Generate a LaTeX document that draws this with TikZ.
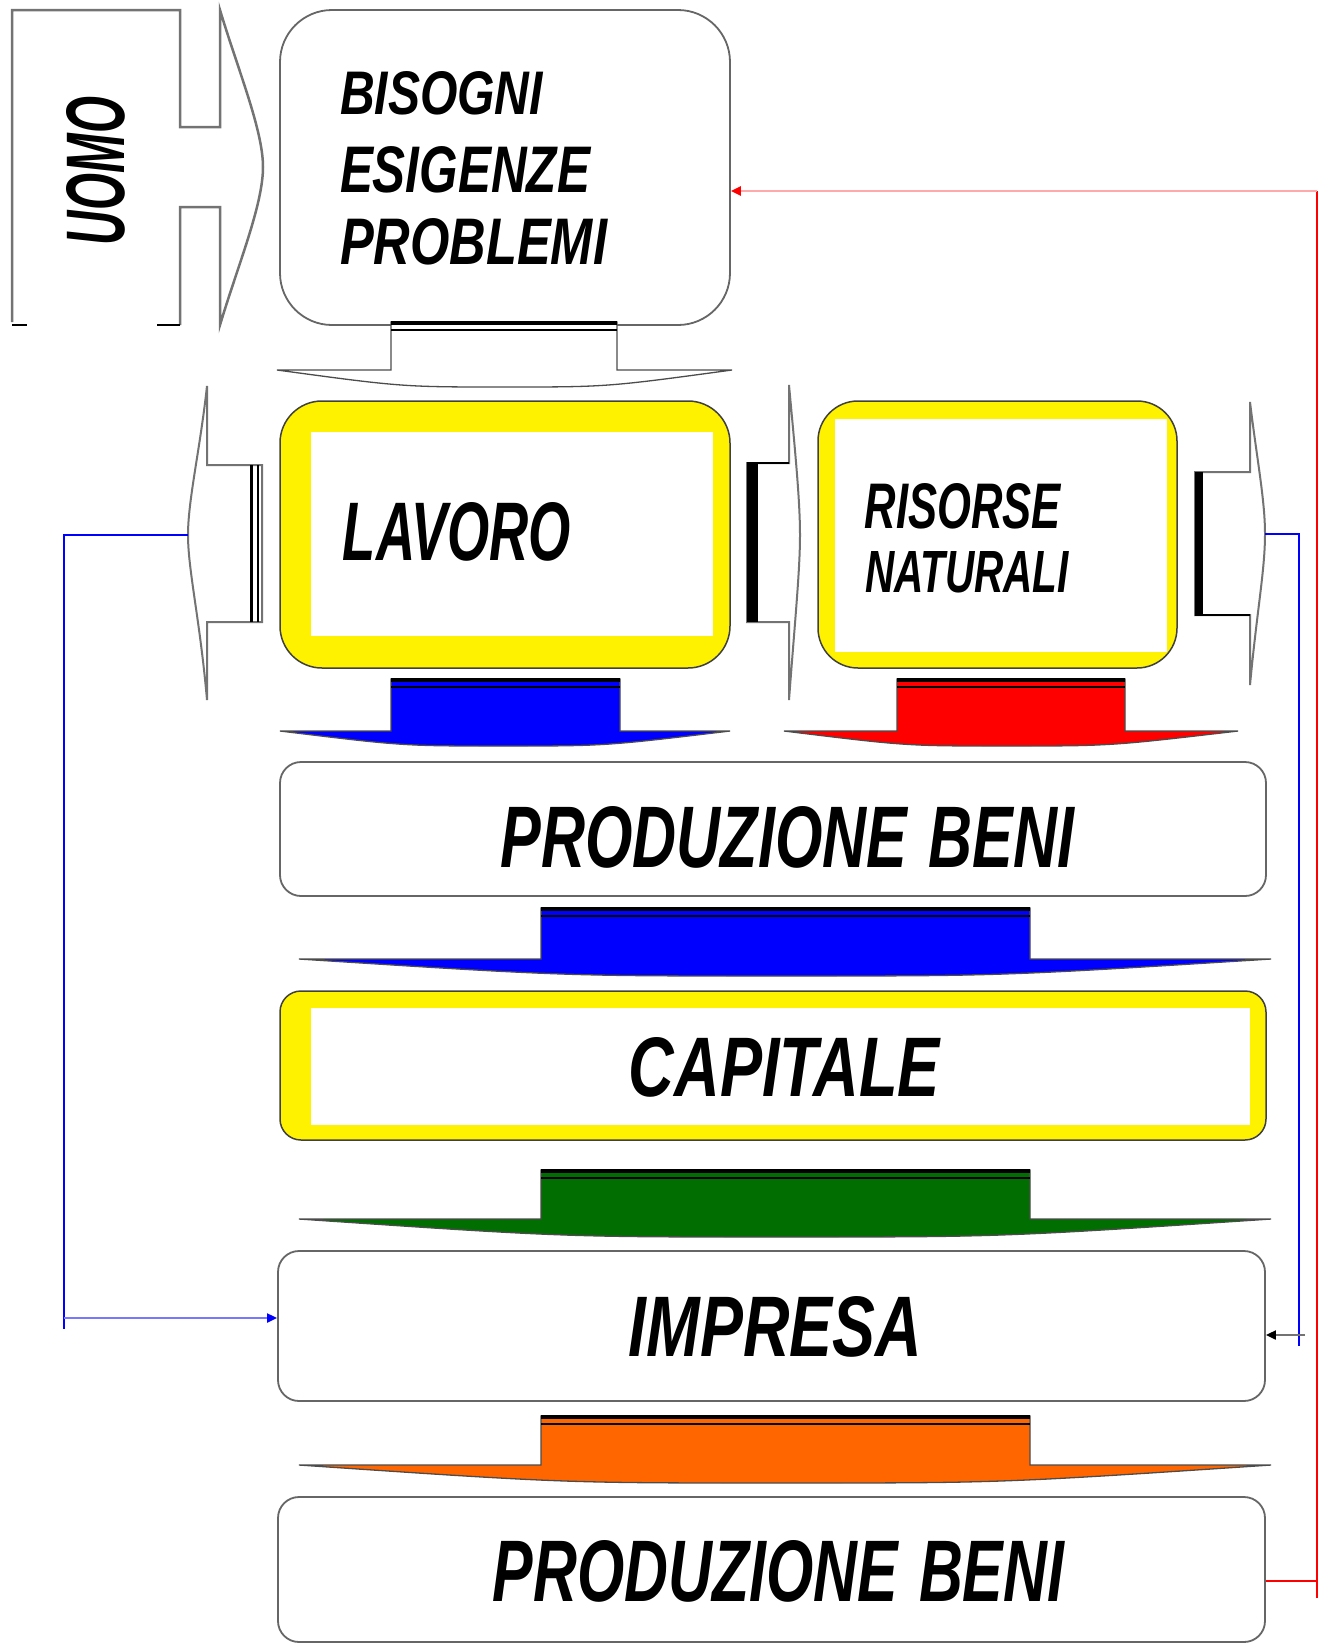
\documentclass[tikz,border=0pt]{standalone}
\usepackage{fontspec}
\usepackage{graphicx}
\newfontfamily\digifont{Liberation Sans}
\usetikzlibrary{arrows.meta}
\definecolor{grn}{RGB}{0,110,0}
\definecolor{orng}{RGB}{255,102,0}
\definecolor{lred}{RGB}{255,170,170}
\definecolor{lblue}{RGB}{120,120,255}
\newcommand\fittext[3]{\resizebox{#1pt}{#2pt}{\digifont\bfseries\itshape #3}}
% colour, shaft left, shaft right, top, wing left, wing right, wing y, tip x, tip y
\newcommand\dnarrow[9]{%
  \filldraw[fill=#1, draw=black!70, line width=1.3pt]
    (#2,#4) -- (#3,#4) -- (#3,#7) -- (#6,#7)
    .. controls ({#8+0.45*(#6-#8)},#9) .. (#8,#9)
    .. controls ({#8-0.45*(#8-#5)},#9) .. (#5,#7) -- (#2,#7) -- cycle;
  \draw[line width=4pt] (#2,{#4+1}) -- (#3,{#4+1});
  \draw[line width=2pt] (#2,{#4+8}) -- (#3,{#4+8});
}
\tikzset{
  box/.style={draw=black!60, line width=1.8pt, fill=white},
  ybox/.style={draw=black!75, line width=1.5pt, fill=yellow},
  txt/.style={inner sep=0pt, outer sep=0pt},
  shape line/.style={draw=black!55, line width=2pt},
  tipA/.style={-{Triangle[length=10pt,width=9pt]}},
}
\begin{document}
\begin{tikzpicture}[x=1pt,y=-1pt]
\useasboundingbox (0,0) rectangle (1327,1644);

% UOMO arrow shape
\draw[shape line, line width=2.5pt] (12,322) -- (12,10) -- (180,10) -- (180,127) -- (220,127) -- (220,10)
  .. controls (238,70) and (263,130) .. (263,167)
  .. controls (263,205) and (238,265) .. (220,325) -- (220,207) -- (180,207) -- (180,325);
\draw[line width=2.5pt] (12,325) -- (27,325) (157,325) -- (180,325);
\node[txt, rotate=90] (uomo) at (96,171) {\fittext{148}{58}{UOMO}};

% BISOGNI box
\node[box, rounded corners=52pt, minimum width=450pt, minimum height=315pt] (bisogni) at (505,167.5) {};
\node[txt, anchor=west] (t1) at (340,93.5) {\fittext{203}{43}{BISOGNI}};
\node[txt, anchor=west] (t2) at (340,170) {\fittext{250}{46}{ESIGENZE}};
\node[txt, anchor=west] (t3) at (340,242) {\fittext{267}{46}{PROBLEMI}};

% white down arrow
\dnarrow{white}{391}{617}{322}{277}{732}{370}{505}{387}

% LAVORO
\node[ybox, rounded corners=42pt, minimum width=450pt, minimum height=267pt] (lavoro) at (505,534.5) {};
\fill[white] (311,432) rectangle (713,636);
\node[txt] (tl) at (457,532) {\fittext{228}{58}{LAVORO}};

% RISORSE NATURALI
\node[ybox, rounded corners=40pt, minimum width=359pt, minimum height=267pt] (risorse) at (997.5,534.5) {};
\fill[white] (835,419) rectangle (1167,652);
\node[txt] (tr1) at (963,506.5) {\fittext{196}{45}{RISORSE}};
\node[txt] (tr2) at (967,572.5) {\fittext{204}{41}{NATURALI}};

% left side arrow (pointing left)
\filldraw[fill=white, shape line] (262,465) -- (207,465) -- (207,386)
  .. controls (200,450) and (188,500) .. (188,535)
  .. controls (188,570) and (200,620) .. (207,700) -- (207,622) -- (262,622) -- cycle;
\draw[line width=3pt] (251,465) -- (251,622);
\draw[line width=2.5pt] (258,465) -- (258,622);
\coordinate (ltip) at (188,535);

% middle side arrow (pointing right)
\filldraw[fill=white, shape line] (747,463) -- (789,463) -- (789,385)
  .. controls (795,450) and (800,500) .. (800,535)
  .. controls (800,570) and (795,620) .. (789,700) -- (789,622) -- (747,622) -- cycle;
\fill[black] (747,463) rectangle (758,622);
\draw[line width=2pt] (747,463) -- (789,463);

% right side arrow (pointing right)
\filldraw[fill=white, shape line] (1195,472) -- (1250,472) -- (1250,402)
  .. controls (1257,460) and (1265,500) .. (1265,534)
  .. controls (1265,570) and (1257,610) .. (1250,685) -- (1250,615) -- (1195,615) -- cycle;
\fill[black] (1195,472) rectangle (1203,615);
\draw[line width=2pt] (1195,615) -- (1250,615);
\coordinate (rtip) at (1265,534);

% coloured down arrows
\dnarrow{blue}{391}{620}{679}{280}{730}{731}{503}{746}
\dnarrow{red}{897}{1125}{679}{784}{1238}{731}{1006}{746}

% PRODUZIONE BENI 1
\node[box, rounded corners=21pt, minimum width=986pt, minimum height=134pt] (prod1) at (773,829) {};
\node[txt] (tp1) at (787.5,837.5) {\fittext{573}{61}{PRODUZIONE\hspace{0.35em}BENI}};

\dnarrow{blue}{541}{1030}{908}{299}{1271}{959}{781}{976}

% CAPITALE
\node[ybox, rounded corners=21pt, minimum width=986pt, minimum height=149pt] (capitale) at (773,1065.5) {};
\fill[white] (311,1008) rectangle (1250,1125);
\node[txt] (tc) at (784.5,1067.5) {\fittext{311}{59}{CAPITALE}};

\dnarrow{grn}{541}{1030}{1170}{299}{1271}{1219}{781}{1237}

% IMPRESA
\node[box, rounded corners=21pt, minimum width=987pt, minimum height=150pt] (impresa) at (771.5,1326) {};
\node[txt] (ti) at (775.5,1327) {\fittext{293}{60}{IMPRESA}};

\dnarrow{orng}{541}{1030}{1416}{299}{1271}{1465}{781}{1483}

% PRODUZIONE BENI 2
\node[box, rounded corners=21pt, minimum width=987pt, minimum height=145pt] (prod2) at (771.5,1569.5) {};
\node[txt] (tp2) at (778.5,1571.5) {\fittext{571}{61}{PRODUZIONE\hspace{0.35em}BENI}};

% connectors
\coordinate (bl1) at (64,535);
\coordinate (bl2) at (64,1318);
\coordinate (bl3) at (64,1329);
\draw[blue, line width=2.5pt] (ltip) -- (bl1) -- (bl3);
\draw[lblue, line width=2pt, -{Triangle[length=10pt,width=9pt,color=blue]}] (bl2) -- (impresa.west |- bl2);

\coordinate (br1) at (1299,534);
\coordinate (br2) at (1299,1346);
\coordinate (br3) at (1305,1335);
\draw[blue, line width=2.5pt] (rtip) -- (br1) -- (br2);
\draw[black!55, line width=2pt, -{Triangle[length=10pt,width=9pt,color=black]}] (br3) -- (impresa.east |- br3);

\coordinate (rd0) at (1317,1581);
\coordinate (rd1) at (1317,1598);
\coordinate (rd2) at (1317,191);
\draw[red, line width=2.5pt] (prod2.east |- rd0) -- (rd0);
\draw[red, line width=2.5pt] (rd1) -- (rd2);
\draw[lred, line width=2.5pt, -{Triangle[length=10pt,width=9pt,color=red]}] (rd2) -- (bisogni.east |- rd2);
\end{tikzpicture}
\end{document}
